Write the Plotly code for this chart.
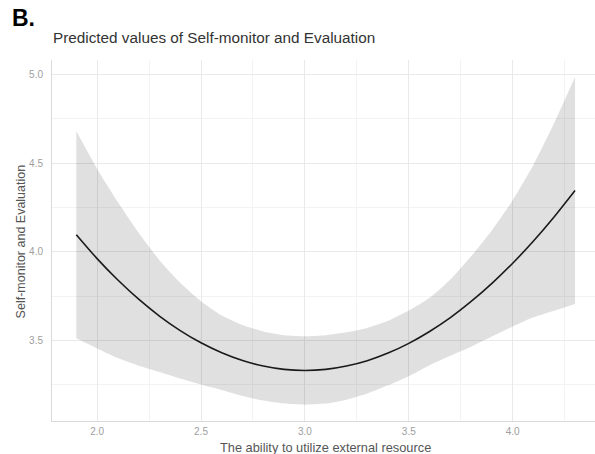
import plotly.graph_objects as go

x_vals = [1.9, 2.0, 2.1, 2.2, 2.3, 2.4, 2.5, 2.6, 2.7, 2.8, 2.9, 3.0, 3.1,
          3.2, 3.3, 3.4, 3.5, 3.6, 3.7, 3.8, 3.9, 4.0, 4.1, 4.2, 4.3]
predicted = [4.096, 3.961, 3.840, 3.732, 3.637, 3.555, 3.486, 3.430, 3.386,
             3.355, 3.336, 3.330, 3.336, 3.355, 3.385, 3.428, 3.483, 3.550,
             3.628, 3.719, 3.821, 3.935, 4.060, 4.197, 4.345]
ci_upper = [4.681, 4.468, 4.28, 4.107, 3.952, 3.825, 3.721, 3.64, 3.586, 3.55,
            3.529, 3.523, 3.529, 3.545, 3.57, 3.61, 3.668, 3.74, 3.843, 3.974,
            4.121, 4.29, 4.49, 4.727, 4.985]
ci_lower = [3.511, 3.454, 3.40, 3.357, 3.322, 3.285, 3.251, 3.22, 3.186, 3.16,
            3.143, 3.137, 3.143, 3.165, 3.20, 3.246, 3.298, 3.36, 3.413, 3.464,
            3.521, 3.578, 3.63, 3.667, 3.705]

x_ticks = [2.0, 2.5, 3.0, 3.5, 4.0]
y_ticks = [3.5, 4.0, 4.5, 5.0]

fig = go.Figure()
fig.add_trace(go.Scatter(x=x_vals, y=ci_upper, mode="lines",
                         line=dict(width=0, shape="spline", smoothing=0.6),
                         showlegend=False, hoverinfo="skip"))
fig.add_trace(go.Scatter(x=x_vals, y=ci_lower, mode="lines",
                         line=dict(width=0, shape="spline", smoothing=0.6),
                         fill="tonexty", fillcolor="rgba(0,0,0,0.12)",
                         showlegend=False, hoverinfo="skip"))
fig.add_trace(go.Scatter(x=x_vals, y=predicted, mode="lines",
                         line=dict(color="#1a1a1a", width=1.6, shape="spline", smoothing=0.6),
                         showlegend=False))

grid_major = "#e9e9e9"
grid_minor = "#f3f3f3"
tick_font = dict(family="Liberation Sans, Arial, sans-serif", size=10, color="#9e9e9e")

fig.update_layout(
    width=595, height=454,
    margin=dict(l=52, r=0, t=60, b=33),
    paper_bgcolor="white", plot_bgcolor="white",
    font=dict(family="Liberation Sans, Arial, sans-serif"),
    xaxis=dict(range=[1.783, 4.396], tickvals=x_ticks,
               ticktext=[f"{v:.1f}" for v in x_ticks],
               showgrid=True, gridcolor=grid_major, gridwidth=1,
               minor=dict(dtick=0.25, tick0=1.75, showgrid=True,
                          gridcolor=grid_minor, gridwidth=1),
               showline=True, linecolor="#dadada", linewidth=1,
               zeroline=False, ticks="", tickfont=tick_font,
               ticklabelstandoff=1),
    yaxis=dict(range=[3.045, 5.081], tickvals=y_ticks,
               ticktext=[f"{v:.1f}" for v in y_ticks],
               showgrid=True, gridcolor=grid_major, gridwidth=1,
               minor=dict(dtick=0.25, tick0=3.25, showgrid=True,
                          gridcolor=grid_minor, gridwidth=1),
               showline=True, linecolor="#dadada", linewidth=1,
               zeroline=False, ticks="", tickfont=tick_font,
               ticklabelstandoff=6),
    annotations=[
        dict(text="<b>B.</b>", xref="paper", yref="paper", x=-0.078, y=1.116,
             xanchor="left", yanchor="middle", showarrow=False,
             font=dict(size=23, color="black", family="Liberation Sans, Arial, sans-serif")),
        dict(text="Predicted values of Self-monitor and Evaluation", xref="paper",
             yref="paper", x=-0.001, y=1.061, xanchor="left", yanchor="middle",
             showarrow=False, font=dict(size=15.3, color="#333333")),
        dict(text="The ability to utilize external resource", xref="paper",
             yref="paper", x=0.504, y=-0.074, xanchor="center", yanchor="middle",
             showarrow=False, font=dict(size=12.8, color="#555555")),
        dict(text="Self-monitor and Evaluation", xref="paper", yref="paper",
             x=-0.0564, y=0.4986, xanchor="center", yanchor="middle",
             textangle=-90, showarrow=False, font=dict(size=12.5, color="#555555")),
    ],
)

fig.write_html("out.html")
